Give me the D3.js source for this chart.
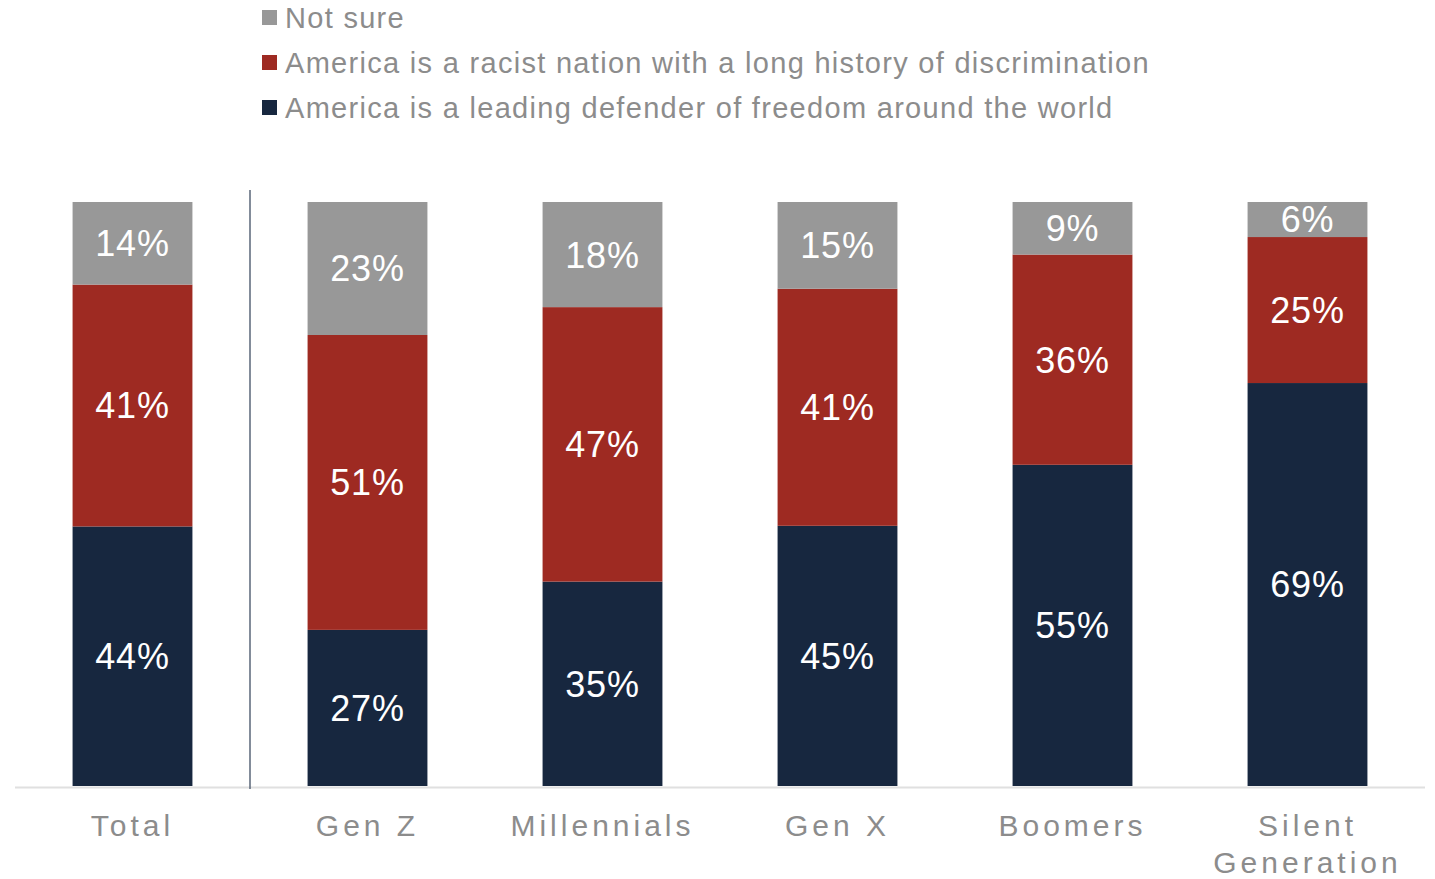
<!DOCTYPE html>
<html>
  <head>
    <meta charset="utf-8">
    <title>America view by generation</title>
    <script src="https://cdn.jsdelivr.net/npm/d3@7"></script>
    <style media="screen">
      body { margin: 0; background: #fff; }
      svg { display: block; font-family: "Liberation Sans", Arial, sans-serif; }
      .cat { fill: #8c8c8c; font-size: 30px; letter-spacing: 4px; }
      .legend text { fill: #8c8c8c; font-size: 29px; letter-spacing: 1.3px; }
      .val { fill: #fff; font-size: 36px; letter-spacing: 0.8px; }
    </style>
  </head>
  <body>
    <script type="text/javascript">

    const categories = ["Total", "Gen Z", "Millennials", "Gen X", "Boomers", "Silent Generation"];
    const defender = [44, 27, 35, 45, 55, 69];
    const racist = [41, 51, 47, 41, 36, 25];
    const notSure = [14, 23, 18, 15, 9, 6];

    const seriesNames = [
      "America is a leading defender of freedom around the world",
      "America is a racist nation with a long history of discrimination",
      "Not sure"
    ];
    const colors = ["#17273f", "#9e2a22", "#989898"];

    const width = 1435, height = 879;
    const baseline = 786, plotTop = 202;

    let rows = categories.map((c, i) => ({cat: c, s0: defender[i], s1: racist[i], s2: notSure[i]}));
    let stack = d3.stack().keys(["s0", "s1", "s2"]).offset(d3.stackOffsetExpand);
    let layers = stack(rows);

    var svg = d3.select('body').append('svg')
      .attr('width', width)
      .attr('height', height);

    var x = d3.scaleBand().domain(categories).range([15, 1425]).paddingInner(0.49).paddingOuter(0.245);
    var y = d3.scaleLinear().domain([0, 1]).range([baseline, plotTop]);

    // bars
    let g = svg.selectAll('.layer')
      .data(layers).enter()
      .append('g')
      .attr('class', 'layer')
      .attr('fill', (d, i) => colors[i]);

    g.selectAll('rect')
      .data(d => d).enter()
      .append('rect')
      .attr('x', d => x(d.data.cat))
      .attr('y', d => y(d[1]))
      .attr('width', x.bandwidth())
      .attr('height', d => y(d[0]) - y(d[1]));

    // value labels
    layers.forEach((layer, li) => {
      svg.selectAll('.val' + li)
        .data(layer).enter()
        .append('text')
        .attr('class', 'val')
        .attr('x', d => x(d.data.cat) + x.bandwidth() / 2)
        .attr('y', d => (y(d[0]) + y(d[1])) / 2)
        .attr('dy', '0.36em')
        .attr('text-anchor', 'middle')
        .text(d => d.data[layer.key] + '%');
    });

    // baseline axis
    svg.append('line')
      .attr('x1', 15).attr('x2', 1425)
      .attr('y1', baseline + 1.5).attr('y2', baseline + 1.5)
      .attr('stroke', '#e0e0e0').attr('stroke-width', 2);

    // divider between Total and generations
    let divX = (x("Total") + x.bandwidth() + x("Gen Z")) / 2;
    svg.append('line')
      .attr('x1', divX).attr('x2', divX)
      .attr('y1', 190).attr('y2', 789)
      .attr('stroke', '#5a6678').attr('stroke-width', 1.5);

    // category labels
    let cat = svg.selectAll('.cat')
      .data(categories).enter()
      .append('text')
      .attr('class', 'cat')
      .attr('text-anchor', 'middle')
      .attr('x', d => x(d) + x.bandwidth() / 2)
      .attr('y', 836);
    cat.each(function(d) {
      let parts = d === "Silent Generation" ? ["Silent", "Generation"] : [d];
      let t = d3.select(this);
      parts.forEach((p, i) => {
        t.append('tspan')
          .attr('x', x(d) + x.bandwidth() / 2)
          .attr('dy', i === 0 ? 0 : 37)
          .text(p);
      });
    });

    // legend
    let legendItems = [2, 1, 0];
    let legend = svg.append('g').attr('class', 'legend');
    legendItems.forEach((si, i) => {
      let ly = 18 + i * 45;
      legend.append('rect')
        .attr('x', 262).attr('y', ly - 8)
        .attr('width', 15).attr('height', 15)
        .attr('fill', colors[si]);
      legend.append('text')
        .attr('x', 285).attr('y', ly)
        .attr('dy', '0.36em')
        .text(seriesNames[si]);
    });

    </script>
  </body>
</html>
